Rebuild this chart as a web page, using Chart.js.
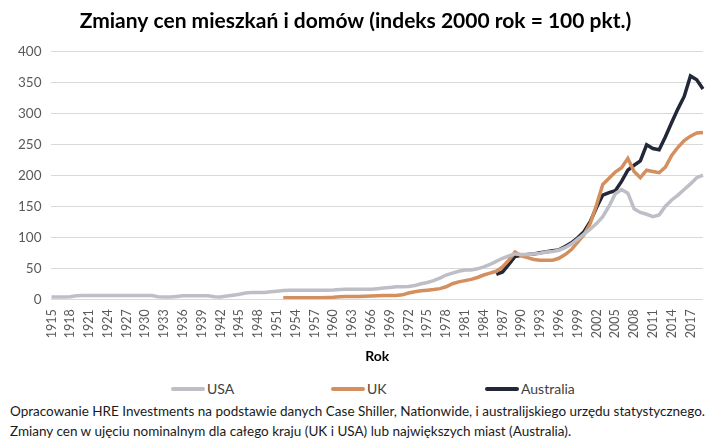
<!DOCTYPE html>
<html>
<head>
<meta charset="utf-8">
<script src="https://cdn.jsdelivr.net/npm/chart.js"></script>
<style>
  body { margin: 0; background: #fff; font-family: Lato, "Open Sans", sans-serif; }
  #wrap { position: relative; width: 728px; height: 448px; }
  #box { position: absolute; left: 0; top: 0; width: 728px; height: 370px; }
  #legend { position: absolute; left: 0; top: 380px; width: 728px; height: 18px; }
  .item { position: absolute; top: 0; font-size: 14px; color: #404040; line-height: 18px; white-space: nowrap; }
  .item span.sw { display: inline-block; width: 34px; height: 4px; border-radius: 2px; vertical-align: middle; margin-right: 2px; position: relative; top: -1px; }
  #note { position: absolute; left: 10px; top: 401px; font-size: 13.5px; line-height: 20px; color: #1a1a1a; }
</style>
</head>
<body>
<div id="wrap">
  <div id="box"><canvas id="chart"></canvas></div>
  <div id="legend"></div>
  <div id="note">
    Opracowanie HRE Investments na podstawie danych Case Shiller, Nationwide, i australijskiego urzędu statystycznego.<br>
    Zmiany cen w ujęciu nominalnym dla całego kraju (UK i USA) lub największych miast (Australia).
  </div>
</div>
<script>
// years 1915..2019
const years = [];
for (let y = 1915; y <= 2019; y++) years.push(String(y));

const yTicks = [0, 50, 100, 150, 200, 250, 300, 350, 400];

// USA, 1915..2019
const usa = [
  3.5, 3.5, 3.5, 4, 5.5, 6, 6, 6, 6, 6,            // 1915-1924
  6, 6, 6, 6, 6, 6, 5.8, 4, 3.5, 3.5,              // 1925-1934
  4.5, 5.5, 5.5, 5.5, 5.5, 5.5, 4, 3.5, 5, 6.5,    // 1935-1944
  8, 10, 11, 11, 11, 12, 13, 14, 14.5, 14.5,       // 1945-1954
  14.5, 14.5, 14.5, 14.5, 14.5, 14.8, 15.5, 16, 16, 16, // 1955-1964
  16, 16, 17, 18, 19, 20, 20, 20.5, 22, 25,        // 1965-1974
  27, 30, 34, 39, 42, 45, 47, 47, 49, 52,          // 1975-1984
  56, 61, 66, 70, 73, 72, 72, 73, 74, 76,          // 1985-1994
  77, 79, 83, 89, 97, 105, 113, 122, 133, 150,     // 1995-2004
  170, 177, 171, 146, 140, 137, 133, 136, 150, 160, // 2005-2014
  168, 177, 186, 196, 200                          // 2015-2019
];

// UK, starts 1952
const uk = [
  ...Array(37).fill(null),                         // 1915-1951
  2.5, 2.5, 2.5,                                   // 1952-1954
  2.5, 2.5, 2.5, 2.5, 2.7, 3, 4, 4.5, 4.5, 4.5,    // 1955-1964
  4.7, 5, 5.5, 5.8, 6, 6, 7, 10, 12, 13.5,         // 1965-1974
  14.5, 15.5, 17, 20, 25, 28, 30, 32, 35, 39,      // 1975-1984
  42, 45, 52, 63, 76, 70, 67, 64, 63, 63,          // 1985-1994
  63, 66, 72, 80, 92, 104, 122, 152, 185, 195,     // 1995-2004
  205, 212, 227, 206, 196, 208, 206, 204, 213, 232, // 2005-2014
  245, 256, 263, 268, 269                          // 2015-2019
];

// Australia, starts 1986
const australia = [
  ...Array(71).fill(null),                         // 1915-1985
  40, 44, 56, 69, 71, 72, 73, 75, 76.5,            // 1986-1994
  78, 79.5, 85, 91, 99, 109, 125, 148, 168, 172,   // 1995-2004
  175, 190, 208, 216, 223, 249, 243, 241, 262, 285, // 2005-2014
  307, 327, 360, 354, 339                          // 2015-2019
];

const seriesNames = ['USA', 'UK', 'Australia'];
const seriesColors = ['#bebec6', '#d48f5e', '#222838'];

const FONT = 'Lato, "Open Sans", sans-serif';

const chart = new Chart(document.getElementById('chart'), {
  type: 'line',
  data: {
    labels: years,
    datasets: [usa, uk, australia].map((d, i) => ({
      label: seriesNames[i],
      data: d,
      borderColor: seriesColors[i],
      backgroundColor: seriesColors[i],
      borderWidth: 3.5,
      pointRadius: 0,
      tension: 0,
      spanGaps: false
    }))
  },
  options: {
    responsive: true,
    maintainAspectRatio: false,
    animation: false,
    layout: { padding: { left: 8, right: 25, top: 0, bottom: 5 } },
    plugins: {
      legend: { display: false },
      tooltip: { enabled: false },
      title: {
        display: true,
        text: 'Zmiany cen mieszkań i domów (indeks 2000 rok = 100 pkt.)',
        color: '#000',
        font: { family: FONT, size: 21, weight: 'bold' },
        padding: { top: 9, bottom: 17 }
      }
    },
    scales: {
      x: {
        offset: false,
        grid: { display: false },
        border: { display: false },
        ticks: {
          autoSkip: false,
          minRotation: 90,
          maxRotation: 90,
          color: '#595959',
          font: { family: FONT, size: 12.5 },
          padding: 2,
          callback: (v, i) => (i % 3 === 0 ? years[i] : null)
        },
        title: {
          display: true,
          text: 'Rok',
          color: '#000',
          font: { family: FONT, size: 14, weight: 'bold' },
          padding: { top: 8, bottom: 0 }
        }
      },
      y: {
        min: 0,
        max: 400,
        border: { display: false },
        grid: { color: '#d9d9d9', lineWidth: 1, drawTicks: false },
        afterBuildTicks: (axis) => { axis.ticks = yTicks.map(v => ({ value: v })); },
        ticks: {
          color: '#595959',
          font: { family: FONT, size: 13.5 },
          padding: 10
        }
      }
    }
  }
});

// html legend spread out like the original
const legendPos = [171, 331, 485];
const legendEl = document.getElementById('legend');
chart.options.plugins.legend.labels.generateLabels(chart).forEach((it, i) => {
  const d = document.createElement('div');
  d.className = 'item';
  d.style.left = legendPos[i] + 'px';
  d.innerHTML = '<span class="sw" style="background:' + it.strokeStyle + '"></span>' + it.text;
  legendEl.appendChild(d);
});
</script>
</body>
</html>
